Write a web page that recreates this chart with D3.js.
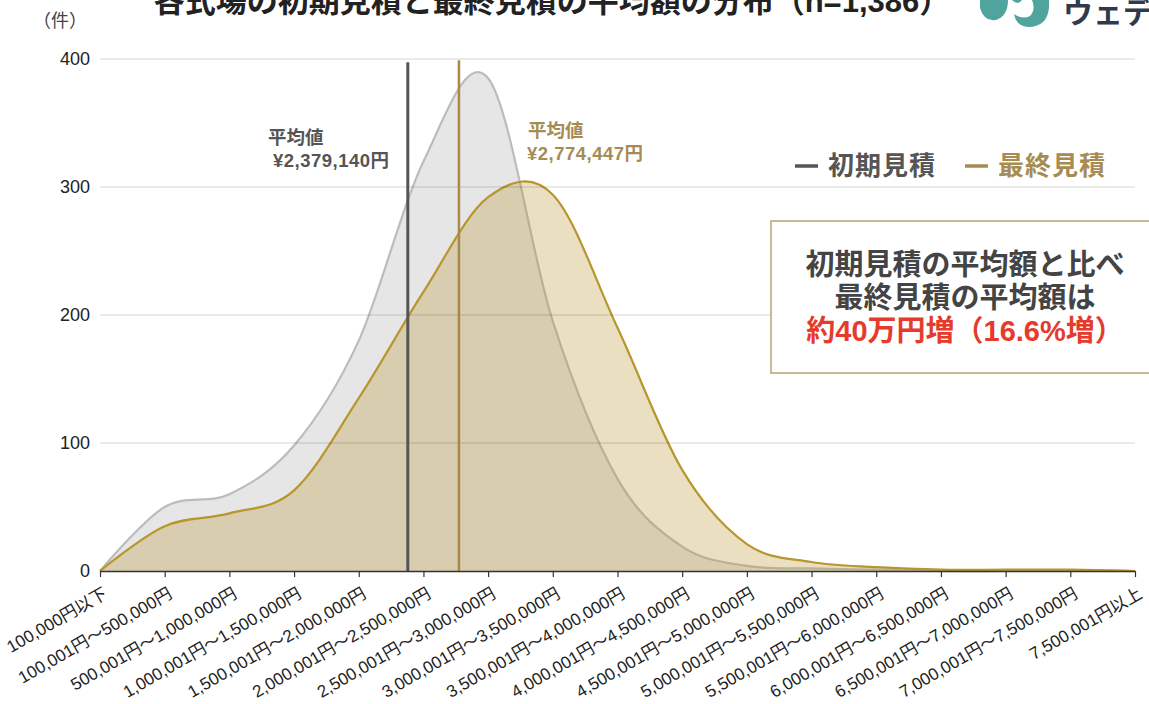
<!DOCTYPE html>
<html>
<head>
<meta charset="utf-8">
<script src="https://cdn.jsdelivr.net/npm/d3@7"></script>
<style>
  body { margin: 0; background: #fff; }
  svg { display: block; font-family: "Liberation Sans", Arial, "Noto Sans CJK JP", sans-serif; }
  .bold { font-family: "Liberation Sans", Arial, "Noto Sans CJK JP", sans-serif; font-weight: bold; }
</style>
</head>
<body>
<svg id="chart"></svg>
<script>
(function(){

	// data
	var categories = ["100,000円以下", "100,001円～500,000円", "500,001円～1,000,000円", "1,000,001円～1,500,000円",
		"1,500,001円～2,000,000円", "2,000,001円～2,500,000円", "2,500,001円～3,000,000円", "3,000,001円～3,500,000円",
		"3,500,001円～4,000,000円", "4,000,001円～4,500,000円", "4,500,001円～5,000,000円", "5,000,001円～5,500,000円",
		"5,500,001円～6,000,000円", "6,000,001円～6,500,000円", "6,500,001円～7,000,000円", "7,000,001円～7,500,000円",
		"7,500,001円以上"];
	var initialCounts = [0, 50, 60, 98, 180, 320, 385, 195, 72, 19, 4, 2, 1, 0, 0, 0, 0];
	var finalCounts   = [0, 35, 45, 63, 135, 218, 292, 294, 190, 79, 21, 7, 3, 1, 1, 1, 0];
	var seriesNames = ["初期見積", "最終見積"];
	var meanValues = [2379140, 2774447];
	var meanLabels = ["¥2,379,140円", "¥2,774,447円"];
	var yTicks = [0, 100, 200, 300, 400];

	// svg config
	var svgWidth = 1149, svgHeight = 704;
	var left = 100, right = 1135, top = 59, bottom = 571;
	var grayLine = "#bcbcbc", grayFill = "#e6e6e6", grayDark = "#555555";
	var gold = "#b8962e", goldText = "#a68c52";

	var svg = d3.select("#chart")
		.attr("width", svgWidth)
		.attr("height", svgHeight);

	var x = d3.scalePoint().domain(categories).range([left, right]);
	var y = d3.scaleLinear().domain([0, 400]).range([bottom, top]);
	//each bucket is 500,000 yen wide, placed by its upper bound
	var xMoney = d3.scaleLinear().domain([0, 500000 * (categories.length - 1)]).range([left, right]);

	var curve = d3.curveCardinal.tension(0);

	function area(vals){
		return d3.area()
			.x(function(d, i){ return x(categories[i]); })
			.y0(y(0))
			.y1(function(d){ return y(d); })
			.curve(curve)(vals);
	}
	function line(vals){
		return d3.line()
			.x(function(d, i){ return x(categories[i]); })
			.y(function(d){ return y(d); })
			.curve(curve)(vals);
	}

	//title (cut off at the top in the original)
	svg.append("text")
		.attr("class", "bold")
		.attr("x", 552).attr("y", 12)
		.attr("text-anchor", "middle")
		.attr("font-size", 31)
		.attr("fill", "#222")
		.text("各式場の初期見積と最終見積の平均額の分布（n=1,386）");

	//logo
	var logo = svg.append("g");
	logo.append("path")
		.attr("d", "M980,0 L1008,0 Q1008,16 996,20 Q984,22 980,8 Z")
		.attr("fill", "#4fa59d");
	logo.append("path")
		.attr("d", "M1012,0 L1049,0 L1049,8 Q1047,27 1028,27 Q1016,26 1014,14 Q1022,20 1030,16 Q1036,10 1032,0 L1022,0 Q1018,6 1012,0 Z")
		.attr("fill", "#4fa59d");
	logo.append("text")
		.attr("class", "bold")
		.attr("x", 1063).attr("y", 23)
		.attr("font-size", 30)
		.attr("fill", "#2f3a4b")
		.text("ウェディング");

	//unit
	svg.append("text")
		.attr("x", 33).attr("y", 27)
		.attr("font-size", 18)
		.attr("fill", "#444")
		.text("（件）");

	//areas
	svg.append("path").attr("d", area(initialCounts)).attr("fill", grayFill);
	svg.append("path").attr("d", line(initialCounts)).attr("fill", "none")
		.attr("stroke", grayLine).attr("stroke-width", 2.2);
	svg.append("path").attr("d", area(finalCounts)).attr("fill", gold).attr("fill-opacity", 0.3);
	svg.append("path").attr("d", line(finalCounts)).attr("fill", "none")
		.attr("stroke", gold).attr("stroke-width", 2.2);

	//grid lines on top of the fills
	svg.append("g").selectAll("line")
		.data(yTicks.slice(1))
		.enter().append("line")
		.attr("x1", left).attr("x2", right)
		.attr("y1", function(d){ return y(d); })
		.attr("y2", function(d){ return y(d); })
		.attr("stroke", "#000").attr("stroke-opacity", 0.17).attr("stroke-width", 1.2);

	//y labels
	svg.append("g").selectAll("text")
		.data(yTicks)
		.enter().append("text")
		.attr("x", 90)
		.attr("y", function(d){ return y(d); })
		.attr("dy", "0.35em")
		.attr("text-anchor", "end")
		.attr("font-size", 18)
		.attr("fill", "#222")
		.text(function(d){ return d; });

	//mean lines
	var meanColors = [grayDark, "#a88a48"];
	var meanTops = [397.5, 399];
	var meanWidths = [3, 2.5];
	svg.append("g").selectAll("line")
		.data(meanValues)
		.enter().append("line")
		.attr("x1", function(d){ return xMoney(d); })
		.attr("x2", function(d){ return xMoney(d); })
		.attr("y1", y(0))
		.attr("y2", function(d, i){ return y(meanTops[i]); })
		.attr("stroke", function(d, i){ return meanColors[i]; })
		.attr("stroke-width", function(d, i){ return meanWidths[i]; });

	//x axis
	var xAxis = svg.append("g")
		.attr("transform", "translate(0," + y(0) + ")")
		.call(d3.axisBottom(x).tickSize(6).tickSizeOuter(0));
	xAxis.select(".domain").attr("stroke", "#333").attr("stroke-width", 1.5);
	xAxis.selectAll(".tick line").attr("stroke", "#333").attr("stroke-width", 1.2);
	xAxis.selectAll(".tick text")
		.attr("font-family", "\"Liberation Sans\", Arial, \"Noto Sans CJK JP\", sans-serif")
		.attr("font-size", 17)
		.attr("fill", "#222")
		.attr("text-anchor", "end")
		.attr("x", 0).attr("y", 0).attr("dy", 0)
		.attr("transform", "translate(8,26) rotate(-30)");

	//mean labels
	var labelPos = [{x: 268, y: 144, x2: 273}, {x: 528, y: 137, x2: 527}];
	var labelColors = [grayDark, goldText];
	meanLabels.forEach(function(lbl, i){
		svg.append("text").attr("class", "bold")
			.attr("x", labelPos[i].x).attr("y", labelPos[i].y)
			.attr("font-size", 18.5).attr("fill", labelColors[i])
			.text("平均値");
		svg.append("text").attr("class", "bold")
			.attr("x", labelPos[i].x2).attr("y", labelPos[i].y + 23)
			.attr("font-size", 18.5).attr("letter-spacing", 0.5).attr("fill", labelColors[i])
			.text(lbl);
	});

	//legend
	var legendX = [795, 965];
	var legendColors = [grayDark, goldText];
	seriesNames.forEach(function(name, i){
		svg.append("line")
			.attr("x1", legendX[i]).attr("x2", legendX[i] + 23)
			.attr("y1", 166).attr("y2", 166)
			.attr("stroke", legendColors[i]).attr("stroke-width", 3.5);
		svg.append("text").attr("class", "bold")
			.attr("x", legendX[i] + 33).attr("y", 175)
			.attr("font-size", 26).attr("letter-spacing", 1).attr("fill", legendColors[i])
			.text(name);
	});

	//annotation box
	svg.append("rect")
		.attr("x", 771).attr("y", 221)
		.attr("width", 400).attr("height", 152)
		.attr("fill", "#fff")
		.attr("stroke", "#bba46e").attr("stroke-width", 1.5);
	var boxLines = ["初期見積の平均額と比べ", "最終見積の平均額は", "約40万円増（16.6%増）"];
	var boxColors = ["#444", "#444", "#e53b2c"];
	svg.append("g").selectAll("text")
		.data(boxLines)
		.enter().append("text")
		.attr("class", "bold")
		.attr("x", 965)
		.attr("y", function(d, i){ return 275 + i * 33; })
		.attr("text-anchor", "middle")
		.attr("font-size", 29)
		.attr("fill", function(d, i){ return boxColors[i]; })
		.text(function(d){ return d; });

})();
</script>
</body>
</html>
